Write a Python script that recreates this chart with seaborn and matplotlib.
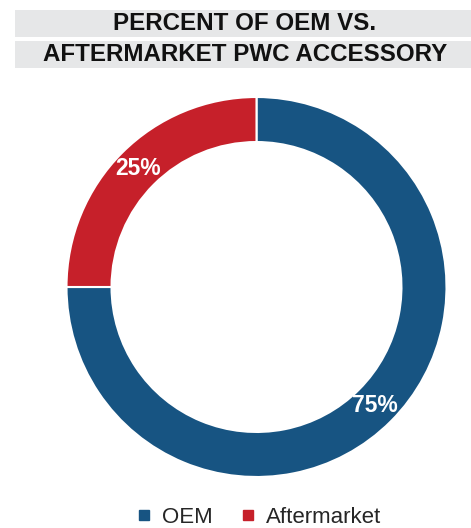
import matplotlib
matplotlib.use("Agg")
import matplotlib.pyplot as plt
import seaborn as sns
import numpy as np
from matplotlib.patches import Rectangle

categories = ["OEM", "Aftermarket"]
values = [75, 25]
pct_labels = ["75%", "25%"]
colors = ["#175482", "#c6202a"]
title_lines = ["PERCENT OF OEM VS.", "AFTERMARKET PWC ACCESSORY"]

sns.set_theme(style="white")
plt.rcParams['font.family'] = ['Liberation Sans', 'DejaVu Sans']

fig = plt.figure(figsize=(4.71, 5.28), dpi=100)

# title bands
W, H = 471, 528
for (y0, y1), txt in zip([(10, 37), (41, 68)], title_lines):
    fig.patches.append(Rectangle((15 / W, 1 - y1 / H), (W - 15) / W, (y1 - y0) / H,
                                 transform=fig.transFigure, facecolor="#e6e7e8",
                                 edgecolor="none", zorder=0))
    fig.text(245 / W, 1 - (y0 + y1) / 2 / H, txt, ha="center", va="center",
             fontsize=17.4, fontweight="bold", color="#111111")

ax = fig.add_axes([(256.5 - 190) / W, (528 - 477) / H, 380 / W, 380 / H])
wedges, _ = ax.pie(values, colors=colors, startangle=90, counterclock=False,
                   radius=1.0, wedgeprops=dict(width=0.237, edgecolor="white", linewidth=1.5))
cum = 0
for v, lab in zip(values, pct_labels):
    mid = 90 - (cum + v / 2) / sum(values) * 360
    cum += v
    r = 0.88
    ax.text(r * np.cos(np.radians(mid)), r * np.sin(np.radians(mid)), lab,
            ha="center", va="center", color="white", fontsize=16.5, fontweight="bold")
ax.set_xlim(-1, 1)
ax.set_ylim(-1, 1)
ax.set_aspect("equal")
ax.axis("off")

handles = [plt.Line2D([], [], marker="s", linestyle="none", markersize=7.5,
                      markerfacecolor=c, markeredgecolor=c) for c in colors]
fig.legend(handles, categories, loc="lower center", bbox_to_anchor=(257 / W, -0.037),
           ncol=2, frameon=False, fontsize=16, handletextpad=0.3, columnspacing=1.1,
           handlelength=1.0)

fig.savefig("out.png", dpi=100)
